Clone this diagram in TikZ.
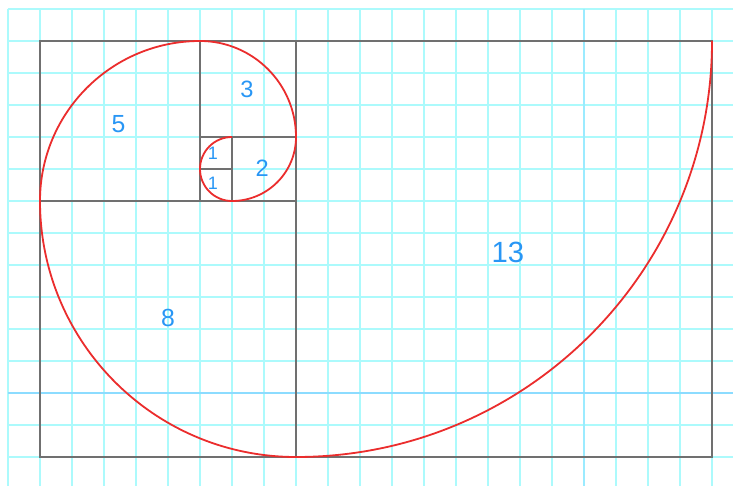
\documentclass[tikz,border=0pt]{standalone}
\usepackage{fontspec}
\setmainfont{Liberation Sans}
\definecolor{gridc}{RGB}{172,250,252}
\definecolor{majorc}{RGB}{140,220,255}
\definecolor{majorv}{RGB}{155,235,255}
\definecolor{framec}{RGB}{112,112,112}
\definecolor{spiralc}{RGB}{235,45,45}
\definecolor{numc}{RGB}{40,150,245}
\tikzset{
  gridline/.style={draw=gridc, line width=2.6pt},
  majorline/.style={draw=majorc, line width=2.6pt},
  majorvline/.style={draw=majorv, line width=2.6pt},
  frame/.style={draw=framec, line width=1.7pt},
  spiral/.style={draw=spiralc, line width=1.6pt},
  num/.style={text=numc, inner sep=0pt},
}
\begin{document}
\begin{tikzpicture}[x=1cm,y=1cm]
\useasboundingbox (-1.25,-0.875) rectangle (21.656,14.281);
\fill[white] (-1.25,-0.875) rectangle (21.656,14.281);
% grid
\foreach \i in {-1,...,21} \draw[gridline] (\i,14) -- (\i,-0.9);
\foreach \j in {0,...,14} \draw[gridline] (-1,\j) -- (21.7,\j);
\draw[majorvline] (17,14) -- (17,-0.9);
\draw[majorline] (-1,2) -- (21.7,2);
% squares
\draw[frame] (0,0) rectangle (21,13);
\draw[frame] (8,0) -- (8,13);
\draw[frame] (0,8) -- (8,8);
\draw[frame] (5,8) -- (5,13);
\draw[frame] (5,10) -- (8,10);
\draw[frame] (6,8) -- (6,10);
\draw[frame] (5,9) -- (6,9);
% spiral
\coordinate (s0) at (21,13);
\draw[spiral] (s0) arc[start angle=0,end angle=-90,radius=13]
  arc[start angle=-90,end angle=-180,radius=8]
  arc[start angle=180,end angle=90,radius=5]
  arc[start angle=90,end angle=0,radius=3]
  arc[start angle=0,end angle=-90,radius=2]
  arc[start angle=-90,end angle=-180,radius=1]
  arc[start angle=180,end angle=90,radius=1];
% labels
\node[num,font=\fontsize{26}{26}\selectfont] (n13) at (14.62,6.4) {13};
\node[num,font=\fontsize{22}{22}\selectfont] (n8) at (4.0,4.35) {8};
\node[num,font=\fontsize{22}{22}\selectfont] (n5) at (2.45,10.4) {5};
\node[num,font=\fontsize{21}{21}\selectfont] (n3) at (6.47,11.5) {3};
\node[num,font=\fontsize{21}{21}\selectfont] (n2) at (6.94,9.03) {2};
\node[num,font=\fontsize{16}{16}\selectfont] (n1a) at (5.4,9.5) {1};
\node[num,font=\fontsize{16}{16}\selectfont] (n1b) at (5.4,8.56) {1};
\end{tikzpicture}
\end{document}
